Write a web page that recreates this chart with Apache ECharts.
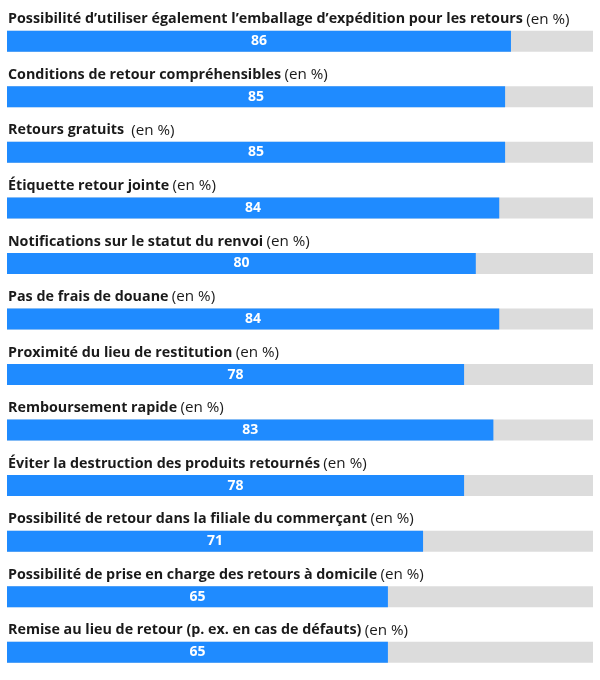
<!DOCTYPE html>
<html><head><meta charset="utf-8">
<script src="https://cdn.jsdelivr.net/npm/echarts@6/dist/echarts.min.js"></script>
<style>html,body{margin:0;padding:0;background:#fff}#c{width:600px;height:680px}</style>
</head><body><div id="c"></div>
<script>
const categories = [
  "Possibilité d’utiliser également l’emballage d’expédition pour les retours",
  "Conditions de retour compréhensibles",
  "Retours gratuits ",
  "Étiquette retour jointe",
  "Notifications sur le statut du renvoi",
  "Pas de frais de douane",
  "Proximité du lieu de restitution",
  "Remboursement rapide",
  "Éviter la destruction des produits retournés",
  "Possibilité de retour dans la filiale du commerçant",
  "Possibilité de prise en charge des retours à domicile",
  "Remise au lieu de retour (p. ex. en cas de défauts)"
];
const values = [86, 85, 85, 84, 80, 84, 78, 83, 78, 71, 65, 65];
const maxValue = 100;
const unitSuffix = "(en %)";

const FONT = "Open Sans";
const chart = echarts.init(document.getElementById('c'), null, {renderer: 'canvas'});
chart.setOption({
  animation: false,
  grid: {left: 7, right: 7, top: 13.5, height: 671, containLabel: false},
  xAxis: {type: 'value', min: 0, max: maxValue, show: false},
  yAxis: {type: 'category', data: categories, inverse: true, show: false},
  series: [
    {
      type: 'bar', data: categories.map(() => maxValue), barWidth: 21, barGap: '-100%',
      itemStyle: {color: '#dcdcdc'}, silent: true,
      label: {
        show: true, position: [1, -4], align: 'left', verticalAlign: 'bottom',
        formatter: p => '{b|' + p.name + '} {n|' + unitSuffix + '}',
        rich: {
          b: {fontFamily: FONT, fontWeight: 'bold', fontSize: 14.3, color: '#1a1a1a'},
          n: {fontFamily: FONT, fontWeight: 'normal', fontSize: 15.2, color: '#1a1a1a'}
        }
      }
    },
    {
      type: 'bar', data: values, barWidth: 21, z: 3,
      itemStyle: {color: '#1f8bff'},
      label: {show: true, position: 'inside', color: '#fff', fontFamily: FONT, fontWeight: 'bold', fontSize: 14}
    }
  ]
});
</script></body></html>
